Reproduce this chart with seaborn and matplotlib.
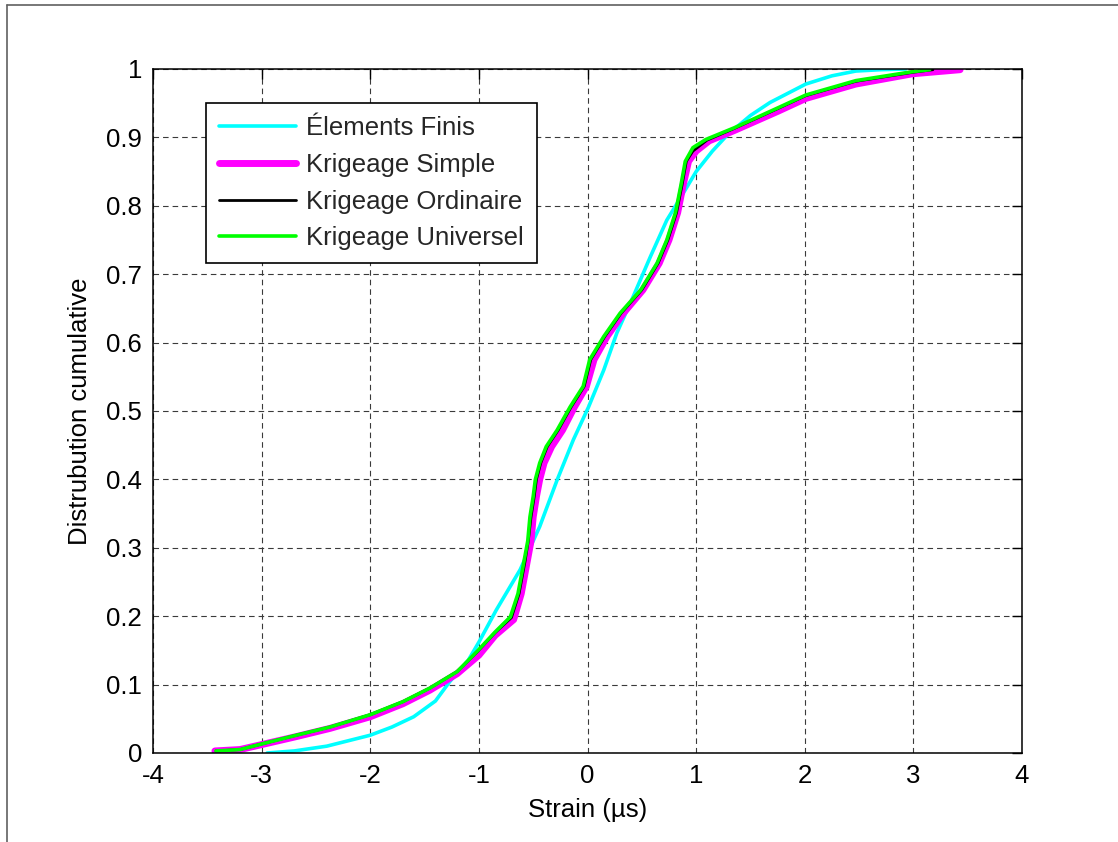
import numpy as np
import pandas as pd
import matplotlib
matplotlib.use("Agg")
import matplotlib.pyplot as plt
import seaborn as sns
from matplotlib.lines import Line2D

labels = ["Élements Finis", "Krigeage Simple", "Krigeage Ordinaire", "Krigeage Universel"]

ef_x = [-2.95, -2.70, -2.40, -2.00, -1.80, -1.60, -1.40, -1.27, -1.10, -1.00, -0.84,
        -0.62, -0.44, -0.28, -0.13, 0.01, 0.15, 0.27, 0.42, 0.58, 0.73, 0.85, 1.00,
        1.15, 1.29, 1.50, 1.68, 2.01, 2.25, 2.47, 2.70, 2.93]
ef_F = [0.000, 0.003, 0.010, 0.026, 0.038, 0.053, 0.076, 0.104, 0.135, 0.162, 0.209,
        0.268, 0.331, 0.399, 0.458, 0.506, 0.560, 0.614, 0.667, 0.726, 0.779, 0.810, 0.850,
        0.880, 0.904, 0.932, 0.951, 0.978, 0.990, 0.997, 0.999, 1.000]

ks_x = [-3.43, -3.20, -2.98, -2.68, -2.37, -2.00, -1.70, -1.45, -1.20, -1.00, -0.85,
        -0.68, -0.61, -0.555, -0.52, -0.50, -0.47, -0.44, -0.40, -0.33, -0.23, -0.12,
        -0.01, 0.06, 0.18, 0.33, 0.51, 0.66, 0.75, 0.83, 0.88, 0.93, 1.00, 1.12, 1.35,
        1.75, 2.01, 2.47, 2.99, 3.43]
ks_F = [0.003, 0.005, 0.013, 0.024, 0.036, 0.053, 0.072, 0.092, 0.116, 0.143, 0.172,
        0.195, 0.233, 0.280, 0.310, 0.345, 0.375, 0.400, 0.424, 0.448, 0.472, 0.506,
        0.536, 0.575, 0.609, 0.643, 0.677, 0.716, 0.750, 0.790, 0.830, 0.865, 0.880, 0.895,
        0.910, 0.938, 0.957, 0.978, 0.993, 0.999]

ko_x = [-3.42, -3.20, -2.98, -2.68, -2.37, -2.00, -1.70, -1.45, -1.20, -1.02, -0.85,
        -0.70, -0.63, -0.575, -0.545, -0.52, -0.49, -0.47, -0.43, -0.37, -0.27, -0.15,
        -0.03, 0.03, 0.16, 0.31, 0.50, 0.65, 0.74, 0.82, 0.87, 0.91, 0.97, 1.10, 1.35,
        1.75, 2.01, 2.47, 2.99, 3.18]
ko_F = [0.003, 0.005, 0.014, 0.026, 0.038, 0.056, 0.075, 0.095, 0.119, 0.147, 0.176,
        0.198, 0.233, 0.280, 0.310, 0.345, 0.375, 0.400, 0.424, 0.448, 0.472, 0.506,
        0.536, 0.575, 0.609, 0.643, 0.677, 0.716, 0.750, 0.790, 0.830, 0.865, 0.880, 0.896,
        0.913, 0.942, 0.961, 0.982, 0.995, 0.999]

ku_x = [-3.42, -3.20, -2.98, -2.68, -2.37, -2.00, -1.70, -1.45, -1.20, -1.02, -0.85,
        -0.71, -0.64, -0.585, -0.55, -0.53, -0.50, -0.48, -0.44, -0.38, -0.28, -0.16,
        -0.04, 0.02, 0.15, 0.30, 0.49, 0.64, 0.73, 0.81, 0.86, 0.90, 0.97, 1.09, 1.35,
        1.75, 2.01, 2.47, 2.99, 3.15]
ku_F = [0.003, 0.005, 0.014, 0.026, 0.038, 0.056, 0.075, 0.095, 0.119, 0.148, 0.177,
        0.199, 0.233, 0.280, 0.310, 0.345, 0.375, 0.400, 0.424, 0.448, 0.472, 0.506,
        0.536, 0.575, 0.609, 0.643, 0.677, 0.716, 0.750, 0.790, 0.830, 0.865, 0.885, 0.897,
        0.914, 0.943, 0.962, 0.983, 0.996, 0.999]

x_ticks = [-4, -3, -2, -1, 0, 1, 2, 3, 4]
y_ticks = [0, 0.1, 0.2, 0.3, 0.4, 0.5, 0.6, 0.7, 0.8, 0.9, 1]
y_ticklabels = ["0", "0.1", "0.2", "0.3", "0.4", "0.5", "0.6", "0.7", "0.8", "0.9", "1"]

# ---- styling ----
sns.set_theme(style="white")
plt.rcParams["font.family"] = ["Liberation Sans", "DejaVu Sans"]
FS = 18.5

fig = plt.figure(figsize=(11.18, 8.42), dpi=100)
fig.patch.set_facecolor("white")
ax = fig.add_axes([153 / 1118, 1 - 753 / 842, (1022 - 153) / 1118, (753 - 69) / 842])

series = [
    (ef_x, ef_F, labels[0], "#00FFFF", 2.6),
    (ks_x, ks_F, labels[1], "#FF00FF", 5.0),
    (ko_x, ko_F, labels[2], "#000000", 2.0),
    (ku_x, ku_F, labels[3], "#00FF00", 2.6),
]
for xs, fs, lab, col, lw in series:
    df = pd.DataFrame({"x": xs, "F": fs})
    sns.lineplot(data=df, x="x", y="F", ax=ax, color=col, linewidth=lw,
                 sort=False, estimator=None, label=lab)

ax.set_xlim(-4, 4)
ax.set_ylim(0, 1)
ax.set_xticks(x_ticks)
ax.set_xticklabels([str(t) for t in x_ticks])
ax.set_yticks(y_ticks)
ax.set_yticklabels(y_ticklabels)
ax.tick_params(axis="both", which="both", direction="in", length=7, width=1,
               top=True, right=True, labelsize=FS, colors="black", pad=8)
ax.grid(True, color="#3a3a3a", linestyle=(0, (5, 3.6)), linewidth=0.8)
for s in ax.spines.values():
    s.set_visible(True)
    s.set_color("black")
    s.set_linewidth(1.1)

ax.set_xlabel("Strain (µs)", fontsize=FS, labelpad=7, color="black")
ax.set_ylabel("Distrubution cumulative", fontsize=FS, labelpad=10, color="black")

handles = [Line2D([], [], color=c, linewidth=lw) for _, _, _, c, lw in series]
leg = ax.legend(handles, labels, loc="upper left",
                bbox_to_anchor=((206 - 153) / 869, (753 - 103) / 684),
                borderaxespad=0, fontsize=FS, frameon=True, fancybox=False,
                framealpha=1, edgecolor="black", handlelength=3.0, handletextpad=0.4,
                labelspacing=0.5, borderpad=0.5)
leg.get_frame().set_linewidth(1.2)

# figure border (top and left lines as in the exported image)
fig.add_artist(Line2D([7 / 1118, 7 / 1118], [0, 1 - 5 / 842], transform=fig.transFigure,
                      color="#606060", linewidth=1.2))
fig.add_artist(Line2D([7 / 1118, 1], [1 - 5 / 842, 1 - 5 / 842], transform=fig.transFigure,
                      color="#606060", linewidth=1.2))

fig.savefig("out.png", dpi=100, facecolor="white")
